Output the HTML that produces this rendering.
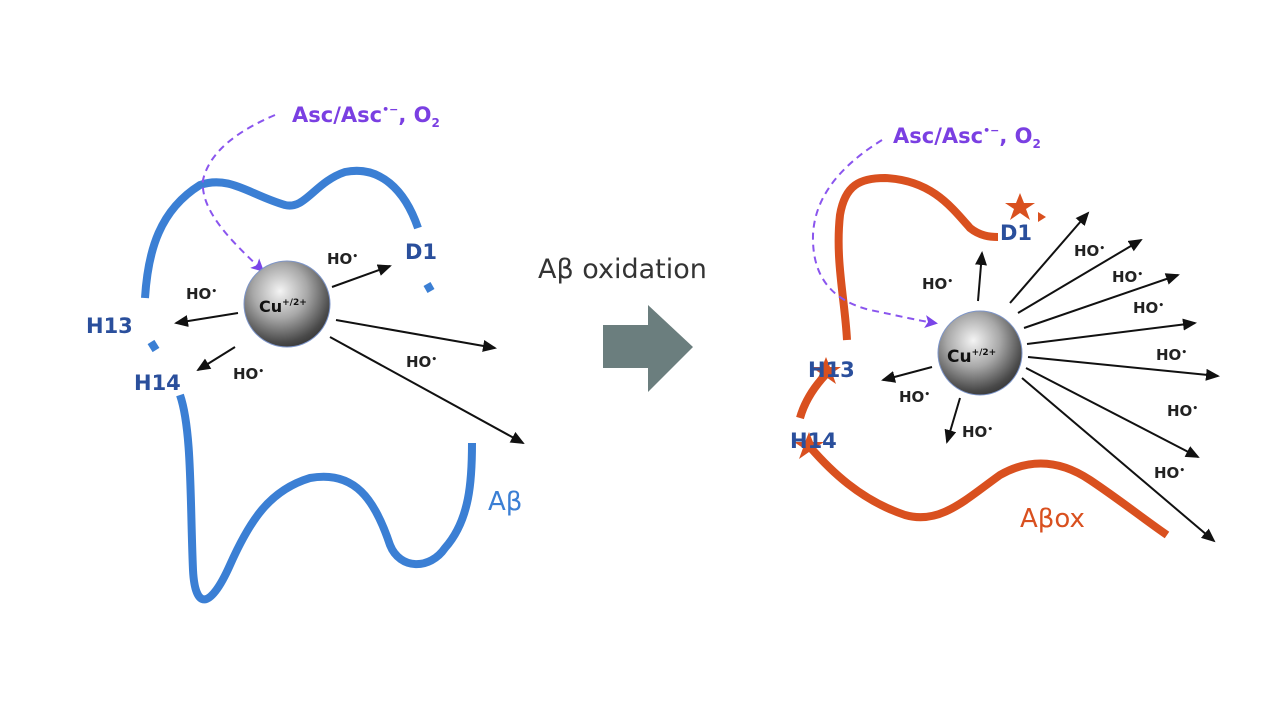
<!DOCTYPE html>
<html><head><meta charset="utf-8"><style>
html,body{margin:0;padding:0;background:#fff}
svg{display:block}
text{font-family:"DejaVu Sans","Liberation Sans",sans-serif;font-weight:bold}
.ho{font-size:15px;fill:#222}
.lb{fill:#2a4f9c;font-size:21px}
</style></head><body>
<svg width="1280" height="720" viewBox="0 0 1280 720" xmlns="http://www.w3.org/2000/svg">
<defs>
<marker id="ah" markerWidth="14" markerHeight="12" refX="12" refY="6" orient="auto" markerUnits="userSpaceOnUse" viewBox="0 0 14 12">
<path d="M0,0 L14,6 L0,12 z" fill="#111"/></marker>
<marker id="ap" markerWidth="13" markerHeight="13" refX="10" refY="6.5" orient="auto" markerUnits="userSpaceOnUse" viewBox="0 0 13 13">
<path d="M0,0 L13,6.5 L0,13 L3,6.5 z" fill="#7a45e8"/></marker>
<radialGradient id="sg" cx="0.42" cy="0.35" r="0.7">
<stop offset="0" stop-color="#f4f4f4"/><stop offset="0.45" stop-color="#a8a8a8"/><stop offset="0.85" stop-color="#4a4a4a"/><stop offset="1" stop-color="#333"/></radialGradient>
</defs>

<!-- LEFT -->
<g fill="none" stroke="#3b7fd4" stroke-width="8" stroke-linecap="butt">
<path d="M145,298 C148,250 160,210 200,185 C230,175 250,195 285,205 C305,210 315,182 345,172 C380,165 405,190 418,228"/>
<path d="M427,284 L431,291"/>
<path d="M151,342 L156,350"/>
<path d="M180,395 C192,430 190,500 193,570 C195,610 210,610 230,565 C250,520 270,490 310,478 C355,470 375,500 390,545 C400,570 430,570 445,548 C470,520 472,480 472,443"/>
</g>
<path d="M275,115 C240,130 210,150 203,180 C200,210 230,240 262,270" fill="none" stroke="#8a55ee" stroke-width="2" stroke-dasharray="7,5" marker-end="url(#ap)"/>
<text x="292" y="122" style="font-size:21px;fill:#7a3fe2">Asc/Asc<tspan dy="-9" style="font-size:11px">•−</tspan><tspan dy="9">, O</tspan><tspan dy="5" style="font-size:12px">2</tspan></text>

<g stroke="#111" stroke-width="2" fill="none" marker-end="url(#ah)">
<line x1="332" y1="287" x2="390" y2="266"/>
<line x1="238" y1="313" x2="176" y2="323"/>
<line x1="235" y1="347" x2="198" y2="370"/>
<line x1="336" y1="320" x2="495" y2="348"/>
<line x1="330" y1="337" x2="523" y2="443"/>
</g>
<circle cx="287" cy="304" r="43" fill="url(#sg)" stroke="#7d95c9" stroke-width="1"/>
<text x="259" y="312" style="font-size:16px;fill:#111">Cu<tspan dy="-7" style="font-size:9px">+/2+</tspan></text>
<text class="ho" x="327" y="264">HO<tspan dy="-5" font-size="9">•</tspan></text>
<text class="ho" x="186" y="299">HO<tspan dy="-5" font-size="9">•</tspan></text>
<text class="ho" x="233" y="379">HO<tspan dy="-5" font-size="9">•</tspan></text>
<text class="ho" x="406" y="367">HO<tspan dy="-5" font-size="9">•</tspan></text>
<text class="lb" x="405" y="259">D1</text>
<text class="lb" x="86" y="333">H13</text>
<text class="lb" x="134" y="390">H14</text>
<text x="488" y="510" style="font-size:26px;font-weight:normal;fill:#3b7fd4">Aβ</text>

<!-- MIDDLE -->
<text x="538" y="278" style="font-size:27px;font-weight:normal;fill:#333">Aβ oxidation</text>
<path d="M603,325 L648,325 L648,305 L693,347 L648,392 L648,368 L603,368 z" fill="#6b7e7e"/>

<!-- RIGHT -->
<g fill="none" stroke="#d9501f" stroke-width="8" stroke-linecap="butt">
<path d="M847,340 C845,300 835,260 840,215 C845,185 860,178 885,178 C930,180 950,205 970,228 C980,236 990,237 998,237"/>
<path d="M800,418 C805,400 815,385 830,370"/>
<path d="M810,447 C830,470 860,500 905,515 C940,525 965,500 1000,475 C1030,458 1060,460 1090,480 C1120,500 1145,520 1167,535"/>
</g>
<g fill="#d9501f">
<polygon points="1020,193 1024,203 1035,203 1026,209 1030,220 1020,213 1010,220 1014,209 1005,203 1016,203"/>
<polygon points="1038,212 1046,217 1038,222"/>
<polygon points="826,357 830,367 841,367 832,373 836,384 826,377 816,384 820,373 811,367 822,367"/>
<polygon points="809,432 813,442 824,442 815,448 819,459 809,452 799,459 803,448 794,442 805,442"/>
</g>
<path d="M882,140 C850,160 815,190 813,235 C812,275 830,300 870,310 C900,316 915,320 935,323" fill="none" stroke="#8a55ee" stroke-width="2" stroke-dasharray="7,5" marker-end="url(#ap)"/>
<text x="893" y="143" style="font-size:21px;fill:#7a3fe2">Asc/Asc<tspan dy="-9" style="font-size:11px">•−</tspan><tspan dy="9">, O</tspan><tspan dy="5" style="font-size:12px">2</tspan></text>

<g stroke="#111" stroke-width="2" fill="none" marker-end="url(#ah)">
<line x1="978" y1="301" x2="982" y2="253"/>
<line x1="932" y1="367" x2="883" y2="380"/>
<line x1="960" y1="398" x2="947" y2="442"/>
<line x1="1010" y1="303" x2="1088" y2="213"/>
<line x1="1018" y1="313" x2="1141" y2="240"/>
<line x1="1024" y1="328" x2="1178" y2="275"/>
<line x1="1027" y1="344" x2="1195" y2="323"/>
<line x1="1028" y1="357" x2="1218" y2="376"/>
<line x1="1026" y1="368" x2="1198" y2="457"/>
<line x1="1022" y1="378" x2="1214" y2="541"/>
</g>
<circle cx="980" cy="353" r="42" fill="url(#sg)" stroke="#7d95c9" stroke-width="1"/>
<text x="947" y="362" style="font-size:17px;fill:#111">Cu<tspan dy="-7" style="font-size:9px">+/2+</tspan></text>
<text class="ho" x="922" y="289">HO<tspan dy="-5" font-size="9">•</tspan></text>
<text class="ho" x="899" y="402">HO<tspan dy="-5" font-size="9">•</tspan></text>
<text class="ho" x="962" y="437">HO<tspan dy="-5" font-size="9">•</tspan></text>
<text class="ho" x="1074" y="256">HO<tspan dy="-5" font-size="9">•</tspan></text>
<text class="ho" x="1112" y="282">HO<tspan dy="-5" font-size="9">•</tspan></text>
<text class="ho" x="1133" y="313">HO<tspan dy="-5" font-size="9">•</tspan></text>
<text class="ho" x="1156" y="360">HO<tspan dy="-5" font-size="9">•</tspan></text>
<text class="ho" x="1167" y="416">HO<tspan dy="-5" font-size="9">•</tspan></text>
<text class="ho" x="1154" y="478">HO<tspan dy="-5" font-size="9">•</tspan></text>
<text class="lb" x="1000" y="240">D1</text>
<text class="lb" x="808" y="377">H13</text>
<text class="lb" x="790" y="448">H14</text>
<text x="1020" y="527" style="font-size:26px;font-weight:normal;fill:#d9501f">Aβox</text>
</svg>
</body></html>
